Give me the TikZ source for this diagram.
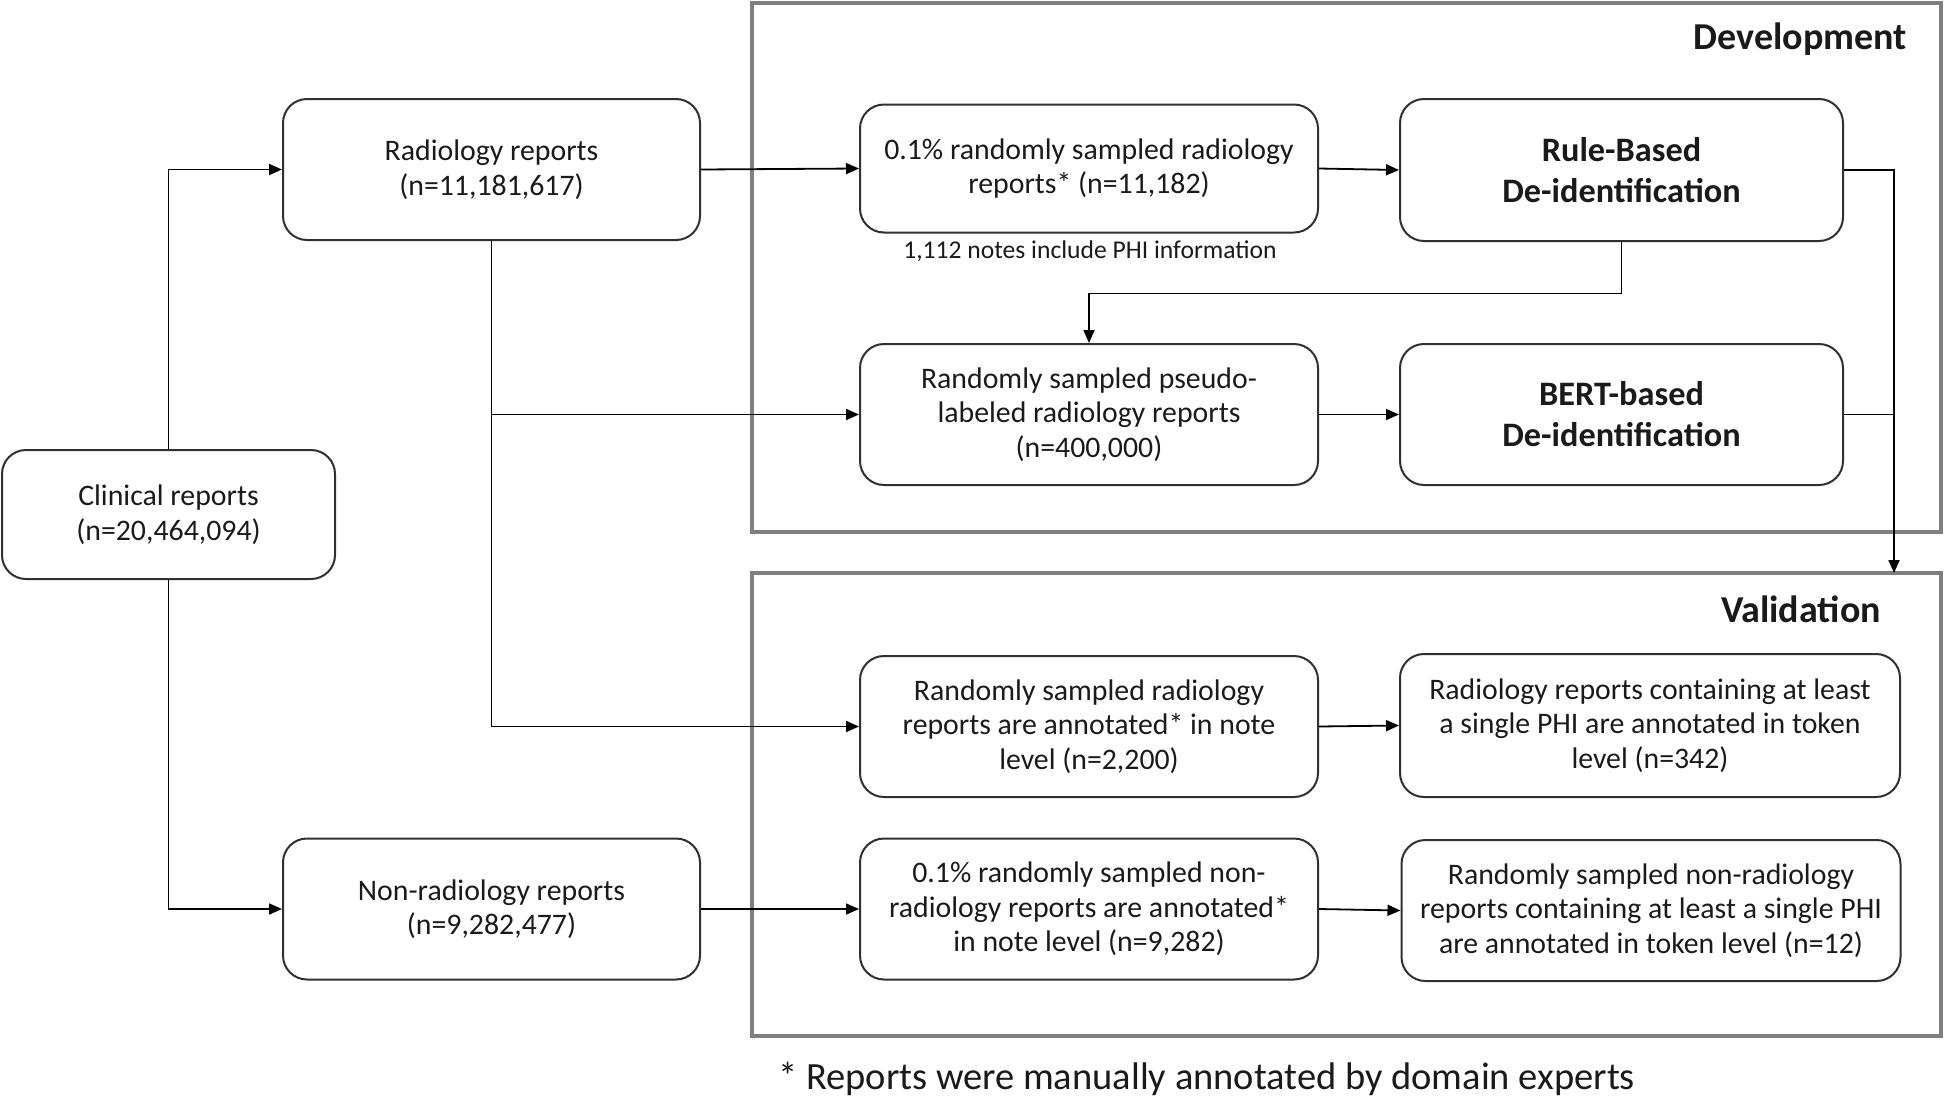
\documentclass[tikz,border=0pt]{standalone}
\usepackage{fontspec}
\setmainfont{Carlito}
\usetikzlibrary{arrows.meta}
\definecolor{framegray}{HTML}{7F7F7F}
\definecolor{boxline}{HTML}{303030}
\definecolor{txt}{HTML}{1A1A1A}
\tikzset{
  box/.style={draw=boxline, line width=2pt, rounded corners=24pt, align=center, inner sep=0pt,
    text=txt, font=\fontsize{29.8}{34.5}\selectfont},
  boldbox/.style={box, font=\fontsize{34.3}{41}\selectfont\bfseries},
  frame/.style={draw=framegray, line width=4.5pt},
  conn/.style={draw=black, line width=1.8pt},
  arr/.style={conn, -{Triangle[length=13pt,width=11pt]}},
  title/.style={font=\fontsize{38}{44}\selectfont\bfseries, text=txt, inner sep=0pt}
}
\begin{document}
\begin{tikzpicture}[x=1pt,y=-1pt]
\useasboundingbox (0,0) rectangle (1944,1098);
% frames
\draw[frame] (752,3) rectangle (1941,532);
\draw[frame] (752,573) rectangle (1941,1036);
\node[title, anchor=base east] (devt) at (1907,49) {Development};
\node[title, anchor=base east] (valt) at (1881,622) {Validation};
% boxes
\node[box, minimum width=333pt, minimum height=129pt] (clin) at (168.5,514.5) {Clinical reports\\(n=20,464,094)};
\node[box, minimum width=417pt, minimum height=141pt] (rad) at (491.5,169.5) {Radiology reports\\(n=11,181,617)};
\node[box, minimum width=417pt, minimum height=141pt] (nonrad) at (491.5,909) {Non-radiology reports\\(n=9,282,477)};
\node[box, minimum width=458pt, minimum height=128pt] (samp) at (1089,168.5) {0.1\% randomly sampled radiology\\reports* (n=11,182)};
\node[boldbox, minimum width=443pt, minimum height=142pt] (rule) at (1621.5,170) {Rule-Based\\De-identification};
\node[box, minimum width=458pt, minimum height=141pt] (pseudo) at (1089,414.5) {Randomly sampled pseudo-\\labeled radiology reports\\(n=400,000)};
\node[boldbox, minimum width=443pt, minimum height=141pt] (bert) at (1621.5,414.5) {BERT-based\\De-identification};
\node[box, minimum width=458pt, minimum height=141pt] (annot) at (1089,726.5) {Randomly sampled radiology\\reports are annotated* in note\\level (n=2,200)};
\node[box, minimum width=500pt, minimum height=143pt] (radtok) at (1650,725.5) {Radiology reports containing at least\\a single PHI are annotated in token\\level (n=342)};
\node[box, minimum width=458pt, minimum height=141pt] (nonsamp) at (1089,909) {0.1\% randomly sampled non-\\radiology reports are annotated*\\in note level (n=9,282)};
\node[box, minimum width=499pt, minimum height=141pt] (nontok) at (1651,910.5) {Randomly sampled non-radiology\\reports containing at least a single PHI\\are annotated in token level (n=12)};
% notes
\node[font=\fontsize{25.6}{30}\selectfont, text=txt, inner sep=0pt, anchor=base] (phi) at (1090,258) {1,112 notes include PHI information};
\node[font=\fontsize{38.5}{44}\selectfont, text=txt, inner sep=0pt, anchor=base west] (foot) at (778,1089) {* Reports were manually annotated by domain experts};
% coordinates
\coordinate (rj) at (1621.5,293.5);
\coordinate (vtop) at (1894,573);
% connectors
\draw[arr] (clin.north) |- (rad.west);
\draw[arr] (clin.south) |- (nonrad.west);
\draw[arr] (rad.east) -- (samp.west);
\draw[arr] (rad.south) |- (annot.west);
\draw[arr] (rad.south |- pseudo.west) -- (pseudo.west);
\draw[arr] (samp.east) -- (rule.west);
\draw[arr] (rule.south) -- (rj) -| (pseudo.north);
\draw[arr] (pseudo.east) -- (bert.west);
\draw[arr] (rule.east) -| (vtop);
\draw[conn] (bert.east) -- (bert.east -| vtop);
\draw[arr] (annot.east) -- (radtok.west);
\draw[arr] (nonrad.east) -- (nonsamp.west);
\draw[arr] (nonsamp.east) -- (nontok.west);
\end{tikzpicture}
\end{document}
